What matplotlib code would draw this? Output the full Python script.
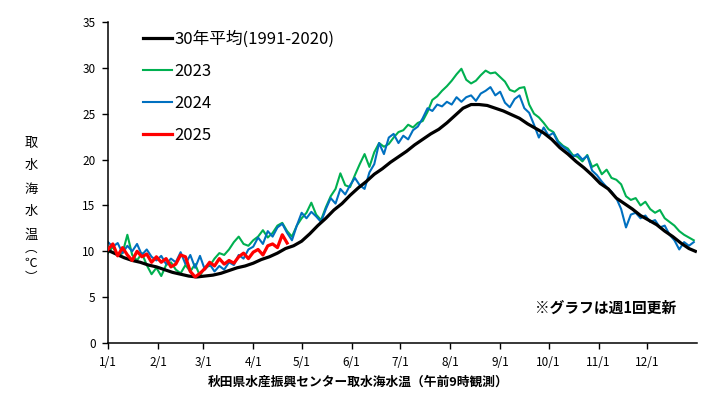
import matplotlib
matplotlib.use("Agg")
import matplotlib.pyplot as plt

plt.rcParams["font.family"] = ["Noto Sans CJK JP", "DejaVu Sans"]

# 月初の通日と目盛りラベル
MONTH_DAYS = [0, 31, 59, 90, 120, 151, 181, 212, 243, 273, 304, 334]
MONTH_LABELS = ["1/1", "2/1", "3/1", "4/1", "5/1", "6/1",
                "7/1", "8/1", "9/1", "10/1", "11/1", "12/1"]

# 30年平均(1991-2020) 5日ごと
AVG_DAYS = list(range(0, 365, 5)) + [364]
AVG_TEMP = [
    10.1, 9.7, 9.3, 9.0, 8.8, 8.5, 8.3, 8.0, 7.7, 7.5,
    7.3, 7.2, 7.3, 7.4, 7.6, 7.9, 8.2, 8.4, 8.7, 9.1,
    9.4, 9.8, 10.3, 10.6, 11.1, 11.9, 12.8, 13.6, 14.5, 15.2,
    16.1, 16.9, 17.6, 18.4, 19.0, 19.7, 20.3, 20.9, 21.6, 22.2,
    22.8, 23.3, 24.0, 24.8, 25.6, 26.0, 26.0, 25.9, 25.6, 25.3,
    24.9, 24.5, 23.9, 23.4, 22.9, 22.2, 21.3, 20.6, 19.8, 19.1,
    18.3, 17.4, 16.8, 15.8, 15.2, 14.6, 13.9, 13.4, 12.9, 12.2,
    11.6, 10.9, 10.3, 10.0,
]

# 各年の水温 3日ごと
YEAR_DAYS = list(range(0, 365, 3))
TEMP_2023 = [
    9.8, 10.5, 9.5, 9.8, 11.8, 9.6, 9.0, 9.8, 8.5, 7.5,
    8.2, 7.3, 8.5, 8.8, 8.0, 7.6, 8.5, 7.8, 8.6, 7.3,
    8.3, 8.4, 9.2, 9.8, 9.6, 10.2, 11.0, 11.6, 10.8, 10.6,
    11.2, 11.6, 12.3, 11.5, 12.0, 12.8, 13.1, 12.2, 11.6, 12.8,
    13.6, 14.2, 15.3, 14.0, 13.4, 14.8, 16.0, 16.8, 18.5, 17.2,
    17.0, 18.3, 19.5, 20.6, 19.2, 20.8, 21.8, 21.4, 21.7, 22.4,
    23.0, 23.2, 23.8, 23.5, 24.0, 24.2, 25.2, 26.5, 26.9, 27.5,
    28.0, 28.6, 29.3, 29.9, 28.7, 28.3, 28.6, 29.2, 29.7, 29.4,
    29.5, 29.0, 28.5, 27.6, 27.4, 27.8, 27.9, 26.0, 25.0, 24.6,
    24.0, 23.3, 23.0, 22.0, 21.5, 21.2, 20.5, 20.3, 19.8, 20.5,
    19.2, 19.5, 18.4, 18.9, 18.0, 17.8, 17.3, 16.0, 15.6, 15.8,
    15.0, 15.4, 14.6, 14.2, 14.5, 13.6, 13.2, 12.8, 12.2, 11.8,
    11.5, 11.2,
]
TEMP_2024 = [
    11.0, 10.5, 10.9, 9.8, 10.6, 10.0, 10.8, 9.6, 10.2, 9.4,
    9.0, 9.5, 8.6, 9.2, 8.8, 9.9, 8.6, 9.6, 8.2, 9.5,
    8.0, 8.6, 7.8, 8.4, 8.0, 8.8, 8.5, 9.6, 9.2, 10.2,
    10.5, 11.5, 10.8, 12.2, 11.6, 12.6, 13.0, 12.0, 11.2, 12.8,
    14.2, 13.6, 14.3, 13.8, 13.2, 14.6, 15.8, 15.2, 16.8, 16.2,
    17.2, 18.0, 17.2, 16.8, 18.6, 19.5, 21.8, 20.6, 22.4, 22.8,
    21.8, 22.6, 22.2, 23.2, 23.6, 24.5, 25.6, 25.3, 26.0, 25.8,
    26.3, 26.0, 26.8, 26.3, 26.8, 27.0, 26.4, 27.2, 27.5, 27.9,
    27.0, 27.4, 26.2, 25.7, 26.6, 27.0, 25.6, 25.1, 23.8, 22.4,
    23.5, 22.6, 22.9, 21.8, 21.4, 21.0, 20.3, 20.6, 20.0, 20.4,
    18.8, 18.3, 17.6, 17.0, 16.5, 15.8, 14.6, 12.6, 14.0, 14.2,
    13.6, 13.9, 13.2, 13.4, 12.6, 12.8, 11.8, 11.2, 10.2, 11.0,
    10.6, 11.0,
]
DAYS_2025 = list(range(0, 112, 3))
TEMP_2025 = [
    10.2, 10.8, 9.5, 10.4, 9.6, 9.0, 10.0, 9.4, 9.7, 8.8,
    9.4, 8.8, 9.2, 8.3, 8.6, 9.6, 9.4, 7.8, 7.2, 7.6,
    8.1, 8.8, 8.4, 9.2, 8.6, 9.0, 8.7, 9.4, 9.8, 9.2,
    9.9, 10.2, 9.6, 10.6, 10.8, 10.4, 11.8, 10.9,
]

YLABEL_CHARS = ["取", "水", "海", "水", "温"]


def main():
    fig = plt.figure(figsize=(7.2, 3.96), dpi=100)
    ax = fig.add_axes([108 / 720, 1 - 343 / 396, 589 / 720, 321 / 396])

    ax.plot(AVG_DAYS, AVG_TEMP, color="black", lw=2.3, label="30年平均(1991-2020)", zorder=3)
    ax.plot(YEAR_DAYS, TEMP_2023, color="#00B050", lw=1.5, label="2023", zorder=2)
    ax.plot(YEAR_DAYS, TEMP_2024, color="#0070C0", lw=1.5, label="2024", zorder=2)
    ax.plot(DAYS_2025, TEMP_2025, color="#FF0000", lw=2.3, label="2025", zorder=4)

    ax.set_xlim(0, 365)
    ax.set_ylim(0, 35)
    ax.set_xticks(MONTH_DAYS)
    ax.set_xticklabels(MONTH_LABELS)
    ax.set_yticks(range(0, 36, 5))
    ax.tick_params(axis="both", direction="out", length=4, width=1, labelsize=8.5, pad=5)
    for side in ["top", "right"]:
        ax.spines[side].set_visible(False)
    for side in ["left", "bottom"]:
        ax.spines[side].set_linewidth(1.1)

    ax.legend(loc="upper left", bbox_to_anchor=(143 / 720, 1 - 31 / 396),
              bbox_transform=fig.transFigure, frameon=False, fontsize=12,
              handlelength=1.75, handletextpad=0.15, labelspacing=0.9,
              borderpad=0, borderaxespad=0)

    # 縦書きの軸ラベル
    for i, ch in enumerate(YLABEL_CHARS):
        fig.text(31 / 720, 1 - (143 + 23 * i) / 396, ch, fontsize=9.5,
                 ha="center", va="center")
    fig.text(31 / 720, 1 - 263 / 396, "︵\n℃\n︶", fontsize=9, linespacing=1.15,
             ha="center", va="center", multialignment="center")

    fig.text(358 / 720, 1 - 382 / 396, "秋田県水産振興センター取水海水温（午前9時観測）",
             fontsize=9.2, fontweight="bold", ha="center", va="center")
    fig.text(535 / 720, 1 - 308 / 396, "※グラフは週1回更新",
             fontsize=10.6, fontweight="bold", ha="left", va="center")

    fig.savefig("out.png", dpi=100)
    plt.close(fig)


if __name__ == "__main__":
    main()
